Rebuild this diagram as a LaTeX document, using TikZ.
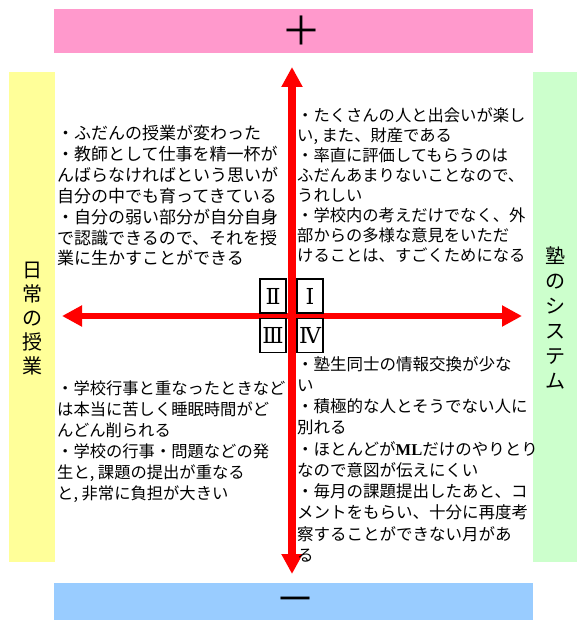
\documentclass[tikz,border=0pt]{standalone}
\usepackage{fontspec}
\usetikzlibrary{arrows.meta}
\newfontfamily\jp{Noto Sans CJK JP}
\newfontfamily\mlfont{Liberation Serif}
\newfontfamily\numfont{DejaVu Serif}
\definecolor{pinkbar}{HTML}{FF99CC}
\definecolor{bluebar}{HTML}{99CCFF}
\definecolor{yellowbar}{HTML}{FFFF99}
\definecolor{greenbar}{HTML}{CCFFCC}
\begin{document}
\begin{tikzpicture}[x=1pt,y=-1pt,
  bar/.style={draw=none, inner sep=0pt},
  redarrow/.style={draw=red, arrows={Triangle[length=20pt,width=20pt]-Triangle[length=20pt,width=20pt]}},
  numbox/.style={draw=black, line width=1.3pt, fill=white, minimum width=26pt, minimum height=34pt, inner sep=0pt, font=\numfont\fontsize{22}{22}\selectfont},
  txt/.style={inner sep=0pt, anchor=base west},
  vtext/.style={inner sep=0pt, align=center},
  sign/.style={inner sep=0pt, font=\jp\fontsize{40}{40}\selectfont}
]
\useasboundingbox (0,0) rectangle (577,620);
% bars
\node[bar, fill=pinkbar, minimum width=479pt, minimum height=44pt] (topbar) at (293.5,31) {};
\node[bar, fill=bluebar, minimum width=479pt, minimum height=37pt] (botbar) at (293.5,601.5) {};
\node[bar, fill=yellowbar, minimum width=46pt, minimum height=490pt] (leftbar) at (32,317) {};
\node[bar, fill=greenbar, minimum width=44pt, minimum height=490pt] (rightbar) at (555,317) {};
% signs
\node[sign] (plus) at (301,31) {＋};
\node[sign] (minus) at (295,605) {－};
% side labels
\node[vtext, font=\jp\fontsize{20}{24}\selectfont] (lefttxt) at (32,319) {日\\常\\の\\授\\業};
\node[vtext, font=\jp\fontsize{20}{25}\selectfont] (righttxt) at (555,318) {塾\\の\\シ\\ス\\テ\\ム};
% axes
\coordinate (ntip) at (292,67);
\coordinate (stip) at (292,574);
\coordinate (wtip) at (62,316);
\coordinate (etip) at (522,316);
\draw[redarrow, line width=6pt] (wtip) -- (etip);
\draw[redarrow, line width=8pt] (ntip) -- (stip);
% quadrant boxes
\node[numbox] (q2) at (273,296) {Ⅱ};
\node[numbox] (q1) at (310,296) {Ⅰ};
\node[numbox] (q3) at (273,335.5) {Ⅲ};
\node[numbox] (q4) at (310,335.5) {Ⅳ};
% upper left
\foreach \t [count=\i from 0] in {
  {・ふだんの授業が変わった},
  {・教師として仕事を精一杯が},
  {んばらなければという思いが},
  {自分の中でも育ってきている},
  {・自分の弱い部分が自分自身},
  {で認識できるので、それを授},
  {業に生かすことができる}}
  \node[txt, font=\jp\fontsize{17}{17}\selectfont] (ul\i) at (57,140+20.8*\i) {\t};
% upper right
\foreach \t [count=\i from 0] in {
  {・たくさんの人と出会いが楽し},
  {い, また、財産である},
  {・率直に評価してもらうのは},
  {ふだんあまりないことなので、},
  {うれしい},
  {・学校内の考えだけでなく、外},
  {部からの多様な意見をいただ},
  {けることは、すごくためになる}}
  \node[txt, font=\jp\fontsize{16.3}{16.3}\selectfont] (ur\i) at (297,121.2+20*\i) {\t};
% lower left
\foreach \t [count=\i from 0] in {
  {・学校行事と重なったときなど},
  {は本当に苦しく睡眠時間がど},
  {んどん削られる},
  {・学校の行事・問題などの発},
  {生と, 課題の提出が重なる},
  {と, 非常に負担が大きい}}
  \node[txt, font=\jp\fontsize{16.3}{16.3}\selectfont] (ll\i) at (57,394.8+21*\i) {\t};
% lower right
\foreach \t [count=\i from 0] in {
  {・塾生同士の情報交換が少な},
  {い},
  {・積極的な人とそうでない人に},
  {別れる},
  {・ほとんどが{\mlfont\bfseries ML}だけのやりとり},
  {なので意図が伝えにくい},
  {・毎月の課題提出したあと、コ},
  {メントをもらい、十分に再度考},
  {察することができない月があ},
  {る}}
  \node[txt, font=\jp\fontsize{16.5}{16.5}\selectfont] (lr\i) at (297,370+21.25*\i) {\t};
\end{tikzpicture}
\end{document}
